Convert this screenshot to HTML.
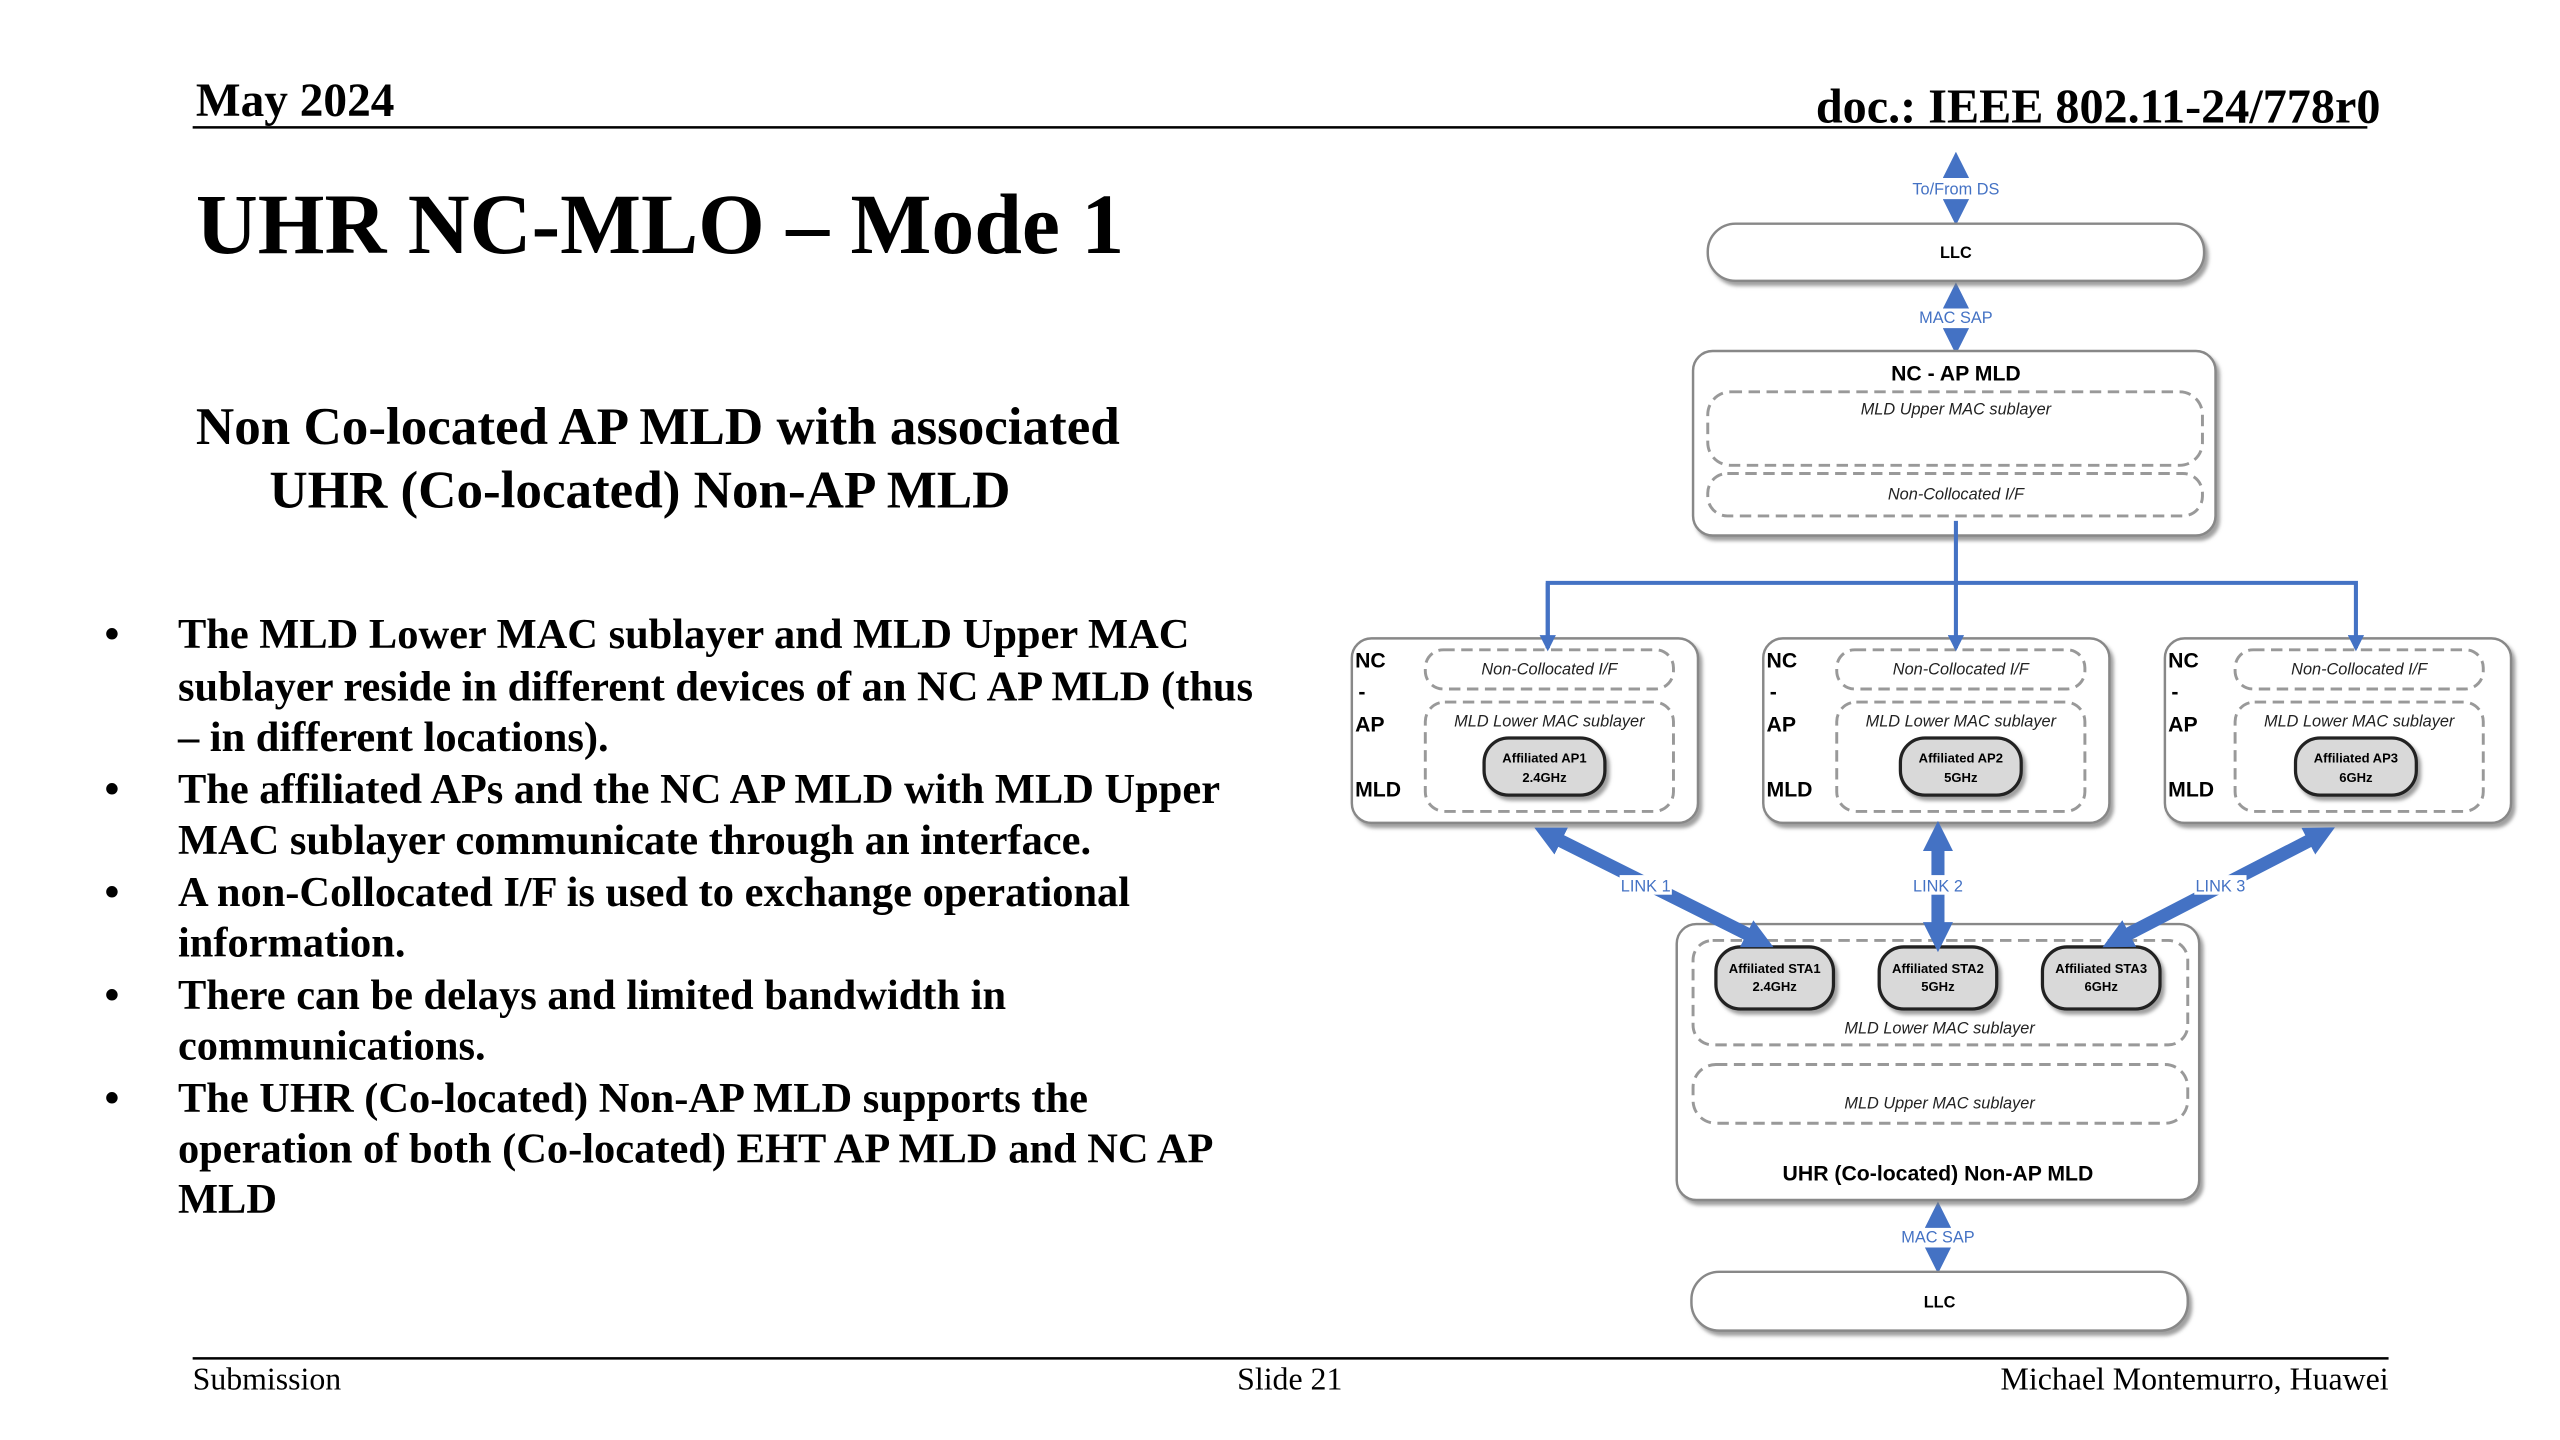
<!DOCTYPE html>
<html><head><meta charset="utf-8"><style>
html,body{margin:0;padding:0;background:#fff;}
svg{display:block}
</style></head><body>
<svg width="2560" height="1440" viewBox="0 0 1568 882" preserveAspectRatio="none" xmlns="http://www.w3.org/2000/svg">
<defs>
<marker id="ah" viewBox="0 0 10 10" refX="5" refY="5" markerWidth="2.3" markerHeight="2.3" orient="auto-start-reverse"><path d="M0,0 L10,5 L0,10 z" fill="#4472C4"/></marker>
<marker id="sa" viewBox="0 0 10 10" refX="8" refY="5" markerWidth="4" markerHeight="4" orient="auto"><path d="M0,0 L10,5 L0,10 z" fill="#4472C4"/></marker>
<filter id="sh" x="-5%" y="-5%" width="115%" height="120%"><feDropShadow dx="2" dy="2.5" stdDeviation="1.2" flood-color="#777" flood-opacity="0.7"/></filter>
</defs>
<g font-family="'Liberation Serif',serif" font-weight="bold" fill="#000">
<text x="120" y="71" font-size="29">May 2024</text>
<text x="1458" y="75" font-size="29.5" text-anchor="end">doc.: IEEE 802.11-24/778r0</text>
<text x="120" y="155" font-size="52.5">UHR NC-MLO – Mode 1</text>
<text x="120" y="272" font-size="32.5">Non Co-located AP MLD with associated</text>
<text x="165" y="311" font-size="32.5">UHR (Co-located) Non-AP MLD</text>
<g font-size="26">
<text x="64" y="397">•</text><text x="109" y="397">The MLD Lower MAC sublayer and MLD Upper MAC</text>
<text x="109" y="429">sublayer reside in different devices of an NC AP MLD (thus</text>
<text x="109" y="460">– in different locations).</text>
<text x="64" y="492">•</text><text x="109" y="492">The affiliated APs and the NC AP MLD with MLD Upper</text>
<text x="109" y="523">MAC sublayer communicate through an interface.</text>
<text x="64" y="555">•</text><text x="109" y="555">A non-Collocated I/F is used to exchange operational</text>
<text x="109" y="586">information.</text>
<text x="64" y="618">•</text><text x="109" y="618">There can be delays and limited bandwidth in</text>
<text x="109" y="649">communications.</text>
<text x="64" y="681">•</text><text x="109" y="681">The UHR (Co-located) Non-AP MLD supports the</text>
<text x="109" y="712">operation of both (Co-located) EHT AP MLD and NC AP</text>
<text x="109" y="743">MLD</text>
</g>
</g>
<line x1="118" y1="78" x2="1450" y2="78" stroke="#000" stroke-width="1.5"/>
<line x1="118" y1="832" x2="1463" y2="832" stroke="#000" stroke-width="1.5"/>
<g font-family="'Liberation Serif',serif" font-size="19.5" fill="#000">
<text x="118" y="851">Submission</text>
<text x="790" y="851" text-anchor="middle">Slide 21</text>
<text x="1463" y="851" text-anchor="end">Michael Montemurro, Huawei</text>
</g>

<g font-family="'Liberation Sans',sans-serif">
<g stroke="#4472C4" stroke-width="7">
<line x1="1198" y1="108" x2="1198" y2="101" marker-end="url(#ah)"/>
<line x1="1198" y1="123" x2="1198" y2="130" marker-end="url(#ah)"/>
<line x1="1198" y1="188" x2="1198" y2="181" marker-end="url(#ah)"/>
<line x1="1198" y1="202" x2="1198" y2="209" marker-end="url(#ah)"/>
<line x1="1187" y1="751" x2="1187" y2="744" marker-end="url(#ah)"/>
<line x1="1187" y1="765" x2="1187" y2="772" marker-end="url(#ah)"/>
</g>
<g fill="#4472C4" font-size="10" text-anchor="middle">
<text x="1198" y="119">To/From DS</text>
<text x="1198" y="198">MAC SAP</text>
<text x="1187" y="761">MAC SAP</text>
</g>
<g fill="#fff" stroke="#888" stroke-width="1.5" filter="url(#sh)">
<rect x="1046" y="137" width="304" height="35" rx="17"/>
<rect x="1037" y="215" width="320" height="113" rx="12"/>
<rect x="828" y="391" width="212" height="113" rx="12"/>
<rect x="1080" y="391" width="212" height="113" rx="12"/>
<rect x="1326" y="391" width="212" height="113" rx="12"/>
<rect x="1027" y="566" width="320" height="169" rx="12"/>
<rect x="1036" y="779" width="304" height="36" rx="17"/>
</g>
<g fill="none" stroke="#999" stroke-width="1.8" stroke-dasharray="7,4">
<rect x="1046" y="240" width="303" height="45" rx="14"/>
<rect x="1046" y="290" width="303" height="26" rx="12"/>
<rect x="873" y="398" width="152" height="24" rx="11"/>
<rect x="873" y="430" width="152" height="67" rx="12"/>
<rect x="1125" y="398" width="152" height="24" rx="11"/>
<rect x="1125" y="430" width="152" height="67" rx="12"/>
<rect x="1369" y="398" width="152" height="24" rx="11"/>
<rect x="1369" y="430" width="152" height="67" rx="12"/>
<rect x="1037" y="576" width="303" height="64" rx="12"/>
<rect x="1037" y="652" width="303" height="36" rx="14"/>
</g>
<g font-size="10" font-weight="bold" text-anchor="middle" fill="#000">
<text x="1198" y="158">LLC</text>
<text x="1188" y="801">LLC</text>
</g>
<text x="1198" y="233" font-size="13" font-weight="bold" text-anchor="middle">NC - AP MLD</text>
<text x="1187" y="723" font-size="13" font-weight="bold" text-anchor="middle">UHR   (Co-located) Non-AP MLD</text>
<g font-size="10" font-style="italic" text-anchor="middle" fill="#222">
<text x="1198" y="254">MLD Upper MAC sublayer</text>
<text x="1198" y="306">Non-Collocated I/F</text>
<text x="949" y="413">Non-Collocated I/F</text>
<text x="949" y="445">MLD Lower MAC sublayer</text>
<text x="1201" y="413">Non-Collocated I/F</text>
<text x="1201" y="445">MLD Lower MAC sublayer</text>
<text x="1445" y="413">Non-Collocated I/F</text>
<text x="1445" y="445">MLD Lower MAC sublayer</text>
<text x="1188" y="633">MLD Lower MAC sublayer</text>
<text x="1188" y="679">MLD Upper MAC sublayer</text>
</g>
<g font-size="13" font-weight="bold" fill="#000">
<text x="830" y="409">NC</text><text x="832" y="428">-</text><text x="830" y="448">AP</text><text x="830" y="488">MLD</text>
<text x="1082" y="409">NC</text><text x="1084" y="428">-</text><text x="1082" y="448">AP</text><text x="1082" y="488">MLD</text>
<text x="1328" y="409">NC</text><text x="1330" y="428">-</text><text x="1328" y="448">AP</text><text x="1328" y="488">MLD</text>
</g>
<g fill="#d9d9d9" stroke="#222" stroke-width="2" filter="url(#sh)">
<rect x="909" y="452" width="74" height="35" rx="15"/>
<rect x="1164" y="452" width="74" height="35" rx="15"/>
<rect x="1406" y="452" width="74" height="35" rx="15"/>
<rect x="1051" y="580" width="72" height="38" rx="15"/>
<rect x="1151" y="580" width="72" height="38" rx="15"/>
<rect x="1251" y="580" width="72" height="38" rx="15"/>
</g>
<g font-size="8" font-weight="bold" text-anchor="middle" fill="#000">
<text x="946" y="467">Affiliated AP1</text><text x="946" y="479">2.4GHz</text>
<text x="1201" y="467">Affiliated AP2</text><text x="1201" y="479">5GHz</text>
<text x="1443" y="467">Affiliated AP3</text><text x="1443" y="479">6GHz</text>
<text x="1087" y="596">Affiliated STA1</text><text x="1087" y="607">2.4GHz</text>
<text x="1187" y="596">Affiliated STA2</text><text x="1187" y="607">5GHz</text>
<text x="1287" y="596">Affiliated STA3</text><text x="1287" y="607">6GHz</text>
</g>
<g stroke="#4472C4" stroke-width="2.5" fill="none">
<line x1="1198" y1="319" x2="1198" y2="357"/>
<polyline points="948,397 948,357 1443,357 1443,397" marker-end="url(#sa)"/>
<line x1="948" y1="357" x2="948" y2="397" marker-end="url(#sa)"/>
<line x1="1198" y1="357" x2="1198" y2="397" marker-end="url(#sa)"/>
</g>
<g stroke="#4472C4" stroke-width="8">
<line x1="948" y1="511" x2="1078" y2="576" marker-start="url(#ah)" marker-end="url(#ah)"/>
<line x1="1187" y1="512" x2="1187" y2="574" marker-start="url(#ah)" marker-end="url(#ah)"/>
<line x1="1422" y1="511" x2="1296" y2="576" marker-start="url(#ah)" marker-end="url(#ah)"/>
</g>
<g font-size="10" fill="#4472C4" text-anchor="middle">
<rect x="992" y="536" width="32" height="12" fill="#fff"/><text x="1008" y="546">LINK 1</text>
<rect x="1171" y="536" width="32" height="12" fill="#fff"/><text x="1187" y="546">LINK 2</text>
<rect x="1344" y="536" width="32" height="12" fill="#fff"/><text x="1360" y="546">LINK 3</text>
</g>
</g>
</svg>
</body></html>
